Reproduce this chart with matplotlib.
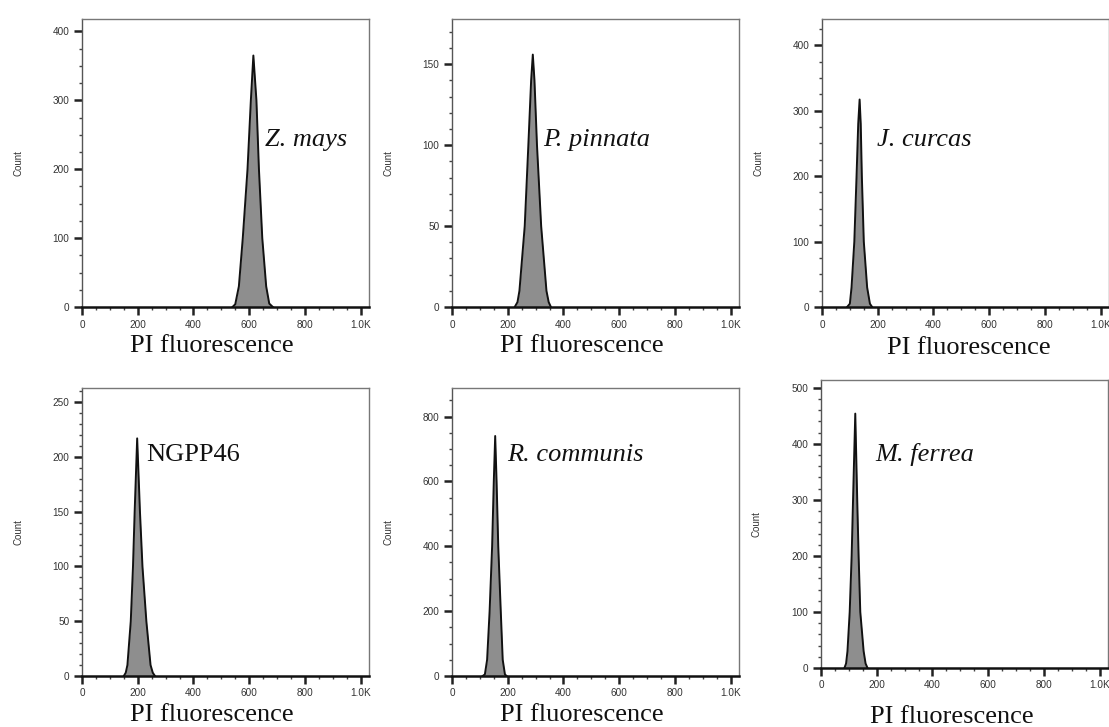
"""
flow cytometry histograms, PI fluorescence
"""

import matplotlib.pyplot as plt
from matplotlib.ticker import MultipleLocator, FixedLocator

W, H = 1109, 727

# species labels
names = ['Z. mays', 'P. pinnata', 'J. curcas', 'NGPP46', 'R. communis', 'M. ferrea']
italic = [True, True, True, False, True, True]

# peaks (PI fluorescence, count)
x_zmays = [540, 550, 563, 577, 594, 606, 615, 626, 635, 647, 661, 672, 685]
y_zmays = [0, 4, 30, 100, 200, 300, 365, 300, 200, 100, 30, 5, 0]

x_ppinnata = [225, 235, 242, 261, 274, 284, 290, 296, 305, 320, 339, 347, 355]
y_ppinnata = [0, 3, 10, 50, 100, 140, 156, 140, 100, 50, 10, 3, 0]

x_jcurcas = [90, 100, 106, 116, 124, 130, 135, 139, 143, 150, 162, 172, 180]
y_jcurcas = [0, 5, 30, 100, 200, 280, 317, 280, 200, 100, 30, 5, 0]

x_ngpp46 = [150, 157, 163, 175, 183, 189, 198, 208, 217, 231, 246, 254, 262]
y_ngpp46 = [0, 3, 10, 50, 100, 150, 217, 150, 100, 50, 10, 3, 0]

x_rcommunis = [110, 118, 126, 135, 144, 150, 155, 160, 166, 175, 182, 190, 196]
y_rcommunis = [0, 5, 50, 200, 400, 600, 740, 600, 400, 200, 50, 5, 0]

x_mferrea = [84, 90, 95, 103, 110, 115, 123, 130, 135, 141, 153, 160, 167]
y_mferrea = [0, 8, 30, 100, 200, 300, 454, 300, 200, 100, 30, 8, 0]

xs = [x_zmays, x_ppinnata, x_jcurcas, x_ngpp46, x_rcommunis, x_mferrea]
ys = [y_zmays, y_ppinnata, y_jcurcas, y_ngpp46, y_rcommunis, y_mferrea]

# y axis: max, major step, minor step
y_max = [418, 178, 440, 263, 888, 514]
y_major = [100, 50, 100, 50, 200, 100]
y_minor = [25, 10, 25, 10, 50, 20]

# box positions in pixels (left, top)
boxes = [(82, 19), (452, 19), (822, 19), (82, 388), (452, 388), (821, 380)]
bw, bh = 287, 288
# species label position (axes fraction)
lab_pos = [(0.638, 0.56), (0.316, 0.56), (0.19, 0.56),
           (0.225, 0.747), (0.193, 0.747), (0.188, 0.72)]
# x label centre / baseline in pixels
xl_pos = [(212, 352), (582, 352), (969, 354), (212, 721), (582, 721), (952, 723)]

fig = plt.figure(figsize=(W / 100, H / 100), dpi=100)
sans = 'Liberation Sans'
serif = 'Liberation Serif'

for i in range(6):
    l, t = boxes[i]
    ax = fig.add_axes([l / W, 1 - (t + bh) / H, bw / W, bh / H])
    ax.fill_between(xs[i], ys[i], 0, color='#8e8e8e', lw=0)
    ax.plot(xs[i], ys[i], color='#111111', lw=1.4)
    ax.set_xlim(0, 1030)
    ax.set_ylim(0, y_max[i])

    ax.xaxis.set_major_locator(FixedLocator([0, 200, 400, 600, 800, 1000]))
    ax.set_xticklabels(['0', '200', '400', '600', '800', '1.0K'])
    ax.xaxis.set_minor_locator(MultipleLocator(50))
    ax.yaxis.set_major_locator(MultipleLocator(y_major[i]))
    ax.yaxis.set_minor_locator(MultipleLocator(y_minor[i]))
    ax.tick_params(which='major', length=5.5, width=1.8, color='#222222',
                   labelsize=7.2, labelcolor='#333333', pad=3.5)
    ax.tick_params(which='minor', length=2.5, width=1.0, color='#444444')
    for lab in ax.get_xticklabels() + ax.get_yticklabels():
        lab.set_family(sans)

    for s in ['top', 'right']:
        ax.spines[s].set_color('#777777')
        ax.spines[s].set_linewidth(1.0)
    ax.spines['left'].set_color('#555555')
    ax.spines['left'].set_linewidth(1.0)
    ax.spines['bottom'].set_color('#111111')
    ax.spines['bottom'].set_linewidth(1.8)

    ax.text(lab_pos[i][0], lab_pos[i][1], names[i], transform=ax.transAxes,
            family=serif, style='italic' if italic[i] else 'normal',
            fontsize=19, color='#111111', va='baseline', ha='left')

    fig.text((l - 64) / W, 1 - (t + bh / 2) / H, 'Count', rotation=90,
             family=sans, fontsize=7, color='#333333', ha='center', va='center')
    fig.text(xl_pos[i][0] / W, 1 - xl_pos[i][1] / H, 'PI fluorescence',
             family=serif, fontsize=19, color='#111111', ha='center', va='baseline')

plt.savefig('out.png', dpi=100)
